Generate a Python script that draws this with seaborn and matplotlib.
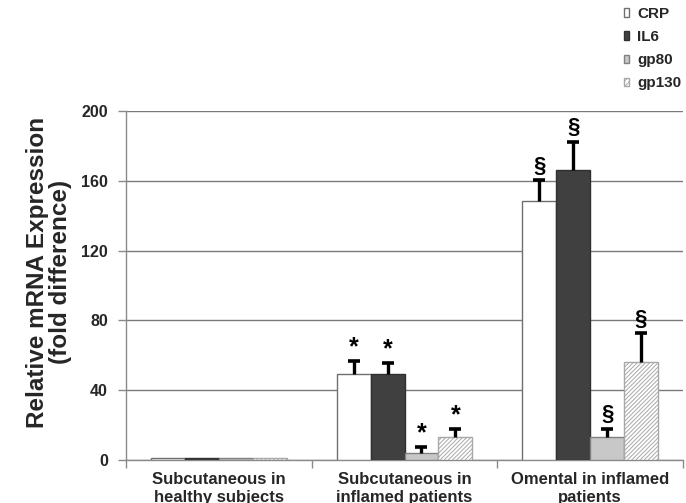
import numpy as np
import pandas as pd
import matplotlib
matplotlib.use("Agg")
import matplotlib.pyplot as plt
from matplotlib.patches import Patch
import seaborn as sns

groups = ["Subcutaneous in\nhealthy subjects", "Subcutaneous in\ninflamed patients", "Omental in inflamed\npatients"]
genes = ["CRP", "IL6", "gp80", "gp130"]
crp = [1.0, 49.5, 148.5]
il6 = [1.0, 49.5, 166.0]
gp80 = [1.0, 3.8, 13.0]
gp130 = [1.0, 13.0, 56.0]
crp_err = [0, 7.5, 12.0]
il6_err = [0, 6.0, 16.5]
gp80_err = [0, 3.8, 5.0]
gp130_err = [0, 5.0, 16.5]
marks = ["", "*", "§"]

values = {"CRP": crp, "IL6": il6, "gp80": gp80, "gp130": gp130}
errors = {"CRP": crp_err, "IL6": il6_err, "gp80": gp80_err, "gp130": gp130_err}

rows = []
for g in genes:
    for i, grp in enumerate(groups):
        rows.append({"group": grp, "gene": g, "value": values[g][i]})
df = pd.DataFrame(rows)

sns.set_style("white")
plt.rcParams["font.family"] = ["Liberation Sans", "DejaVu Sans"]
plt.rcParams["font.weight"] = "bold"
plt.rcParams["hatch.linewidth"] = 0.7

fig = plt.figure(figsize=(6.86, 5.03), dpi=100)
ax = fig.add_axes([126/686, 1-460/503, (683-126)/686, (460-111)/503])

fills = {"CRP": "#ffffff", "IL6": "#404040", "gp80": "#c8c8c8", "gp130": "#ffffff"}
edges = {"CRP": "#707070", "IL6": "#303030", "gp80": "#808080", "gp130": "#a8a8a8"}

sns.barplot(data=df, x="group", y="value", hue="gene", hue_order=genes,
            palette=fills, width=0.73, gap=0, errorbar=None, legend=False,
            linewidth=1.0, ax=ax, zorder=3)

for gi, (g, cont) in enumerate(zip(genes, ax.containers)):
    for j, bar in enumerate(cont):
        bar.set_edgecolor(edges[g])
        bar.set_linewidth(1.0)
        bar.set_zorder(3)
        if g == "gp130":
            bar.set_hatch("////////")
        err = errors[g][j]
        x = bar.get_x() + bar.get_width() / 2
        top = bar.get_height()
        if err > 0:
            ax.vlines(x, top, top + err, colors="black", linewidth=2.4, zorder=4)
            ax.plot([x], [top + err], marker="_", markersize=8, markeredgewidth=2.6,
                    color="black", zorder=4)
        if marks[j]:
            star = marks[j] == "*"
            ax.annotate(marks[j], (x, top + err), xytext=(0, 1 if star else 6),
                        textcoords="offset points", ha="center",
                        va="bottom" if star else "baseline",
                        fontsize=18 if star else 16,
                        fontweight="bold", color="black", zorder=5)

ax.set_ylim(0, 200)
ax.set_xlim(-0.5, 2.5)
ax.set_yticks([0, 40, 80, 120, 160, 200])
ax.yaxis.grid(True, color="#7a7a7a", linewidth=1.0, zorder=0)
ax.set_axisbelow(True)
for s in ["top", "right"]:
    ax.spines[s].set_visible(False)
for s in ["left", "bottom"]:
    ax.spines[s].set_color("#8a8a8a")
    ax.spines[s].set_linewidth(1.0)
ax.tick_params(axis="y", which="major", length=6, width=1.0, color="#8a8a8a", pad=7,
               labelsize=11.5, left=True)
ax.tick_params(axis="x", which="major", length=0, pad=9, labelsize=12)
ax.set_xticks([-0.5, 0.5, 1.5, 2.5], minor=True)
ax.tick_params(axis="x", which="minor", length=6, width=1.0, color="#8a8a8a", bottom=True)
for lab in ax.get_xticklabels() + ax.get_yticklabels():
    lab.set_fontweight("bold")
ax.set_xlabel("")
ax.set_ylabel("")

fig.text(49/686, 1-272/503, "Relative mRNA Expression\n(fold difference)", rotation=90,
         ha="center", va="center", multialignment="center", fontsize=17.5,
         fontweight="bold", linespacing=0.95)

handles = [Patch(facecolor=fills[g], edgecolor=edges[g], hatch="//////" if g == "gp130" else None,
                 label=g) for g in genes]
leg = fig.legend(handles=handles, loc="upper left", bbox_to_anchor=(624/686, 1-7/503),
                 frameon=False, handlelength=0.35, handleheight=0.5, handletextpad=0.5,
                 labelspacing=0.6, borderpad=0, borderaxespad=0,
                 prop={"size": 11, "weight": "bold"})

fig.savefig("out.png", dpi=100)
